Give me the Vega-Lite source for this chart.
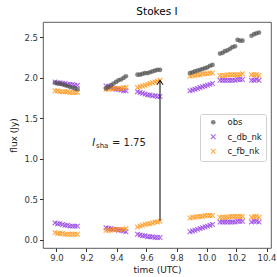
{
"$schema":"https://vega.github.io/schema/vega-lite/v6.json",
"width":228,"height":226,
"autosize":{"type":"none"},
"padding":{"left":43,"top":22,"right":6,"bottom":29},
"title":{"text":"Stokes I","fontSize":10.5,"fontWeight":"normal","font":"DejaVu Sans","color":"#000","offset":5},
"config":{"font":"DejaVu Sans","view":{"stroke":"#333","strokeWidth":0.8},
"axis":{"grid":false,"domain":false,"labelFontSize":8.5,"titleFontSize":9,"titleFontWeight":"normal","labelColor":"#333","titleColor":"#222","tickColor":"#333","tickSize":3.5,"labelPadding":2,"labelOverlap":false,"labelFlush":false}},
"datasets":{"pts":[
{"t":8.99,"s":"c_db_nk","v":1.95},{"t":9.007,"s":"c_db_nk","v":1.94},{"t":9.023,"s":"c_db_nk","v":1.94},{"t":9.04,"s":"c_db_nk","v":1.93},{"t":9.057,"s":"c_db_nk","v":1.93},{"t":9.073,"s":"c_db_nk","v":1.92},{"t":9.09,"s":"c_db_nk","v":1.92},{"t":9.107,"s":"c_db_nk","v":1.92},{"t":9.123,"s":"c_db_nk","v":1.91},{"t":9.14,"s":"c_db_nk","v":1.91},
{"t":9.33,"s":"c_db_nk","v":1.90},{"t":9.347,"s":"c_db_nk","v":1.89},{"t":9.363,"s":"c_db_nk","v":1.88},{"t":9.38,"s":"c_db_nk","v":1.87},{"t":9.397,"s":"c_db_nk","v":1.86},{"t":9.413,"s":"c_db_nk","v":1.86},{"t":9.43,"s":"c_db_nk","v":1.85},{"t":9.447,"s":"c_db_nk","v":1.84},{"t":9.463,"s":"c_db_nk","v":1.84},
{"t":9.54,"s":"c_db_nk","v":1.83},{"t":9.557,"s":"c_db_nk","v":1.82},{"t":9.573,"s":"c_db_nk","v":1.81},{"t":9.59,"s":"c_db_nk","v":1.80},{"t":9.607,"s":"c_db_nk","v":1.79},{"t":9.623,"s":"c_db_nk","v":1.79},{"t":9.64,"s":"c_db_nk","v":1.78},{"t":9.657,"s":"c_db_nk","v":1.78},{"t":9.673,"s":"c_db_nk","v":1.77},{"t":9.69,"s":"c_db_nk","v":1.77},
{"t":9.89,"s":"c_db_nk","v":1.84},{"t":9.907,"s":"c_db_nk","v":1.85},{"t":9.923,"s":"c_db_nk","v":1.86},{"t":9.94,"s":"c_db_nk","v":1.87},{"t":9.957,"s":"c_db_nk","v":1.88},{"t":9.973,"s":"c_db_nk","v":1.89},{"t":9.99,"s":"c_db_nk","v":1.90},{"t":10.007,"s":"c_db_nk","v":1.91},{"t":10.023,"s":"c_db_nk","v":1.92},{"t":10.04,"s":"c_db_nk","v":1.93},
{"t":10.09,"s":"c_db_nk","v":1.97},{"t":10.107,"s":"c_db_nk","v":1.97},{"t":10.123,"s":"c_db_nk","v":1.97},{"t":10.14,"s":"c_db_nk","v":1.97},{"t":10.157,"s":"c_db_nk","v":1.97},{"t":10.173,"s":"c_db_nk","v":1.97},{"t":10.19,"s":"c_db_nk","v":1.97},{"t":10.207,"s":"c_db_nk","v":1.98},{"t":10.223,"s":"c_db_nk","v":1.98},{"t":10.24,"s":"c_db_nk","v":1.98},
{"t":10.3,"s":"c_db_nk","v":1.97},{"t":10.317,"s":"c_db_nk","v":1.97},{"t":10.333,"s":"c_db_nk","v":1.98},{"t":10.35,"s":"c_db_nk","v":1.97},
{"t":8.99,"s":"c_db_nk","v":0.21},{"t":9.007,"s":"c_db_nk","v":0.20},{"t":9.023,"s":"c_db_nk","v":0.20},{"t":9.04,"s":"c_db_nk","v":0.19},{"t":9.057,"s":"c_db_nk","v":0.18},{"t":9.073,"s":"c_db_nk","v":0.18},{"t":9.09,"s":"c_db_nk","v":0.17},{"t":9.107,"s":"c_db_nk","v":0.17},{"t":9.123,"s":"c_db_nk","v":0.17},{"t":9.14,"s":"c_db_nk","v":0.17},
{"t":9.33,"s":"c_db_nk","v":0.15},{"t":9.347,"s":"c_db_nk","v":0.14},{"t":9.363,"s":"c_db_nk","v":0.14},{"t":9.38,"s":"c_db_nk","v":0.13},{"t":9.397,"s":"c_db_nk","v":0.13},{"t":9.413,"s":"c_db_nk","v":0.12},{"t":9.43,"s":"c_db_nk","v":0.12},{"t":9.447,"s":"c_db_nk","v":0.11},{"t":9.463,"s":"c_db_nk","v":0.10},
{"t":9.54,"s":"c_db_nk","v":0.07},{"t":9.557,"s":"c_db_nk","v":0.06},{"t":9.573,"s":"c_db_nk","v":0.05},{"t":9.59,"s":"c_db_nk","v":0.05},{"t":9.607,"s":"c_db_nk","v":0.04},{"t":9.623,"s":"c_db_nk","v":0.04},{"t":9.64,"s":"c_db_nk","v":0.04},{"t":9.657,"s":"c_db_nk","v":0.03},{"t":9.673,"s":"c_db_nk","v":0.03},{"t":9.69,"s":"c_db_nk","v":0.03},
{"t":9.89,"s":"c_db_nk","v":0.10},{"t":9.907,"s":"c_db_nk","v":0.11},{"t":9.923,"s":"c_db_nk","v":0.12},{"t":9.94,"s":"c_db_nk","v":0.13},{"t":9.957,"s":"c_db_nk","v":0.14},{"t":9.973,"s":"c_db_nk","v":0.15},{"t":9.99,"s":"c_db_nk","v":0.16},{"t":10.007,"s":"c_db_nk","v":0.17},{"t":10.023,"s":"c_db_nk","v":0.18},{"t":10.04,"s":"c_db_nk","v":0.19},
{"t":10.09,"s":"c_db_nk","v":0.22},{"t":10.107,"s":"c_db_nk","v":0.22},{"t":10.123,"s":"c_db_nk","v":0.22},{"t":10.14,"s":"c_db_nk","v":0.22},{"t":10.157,"s":"c_db_nk","v":0.22},{"t":10.173,"s":"c_db_nk","v":0.22},{"t":10.19,"s":"c_db_nk","v":0.22},{"t":10.207,"s":"c_db_nk","v":0.23},{"t":10.223,"s":"c_db_nk","v":0.23},{"t":10.24,"s":"c_db_nk","v":0.23},
{"t":10.3,"s":"c_db_nk","v":0.22},{"t":10.317,"s":"c_db_nk","v":0.23},{"t":10.333,"s":"c_db_nk","v":0.23},{"t":10.35,"s":"c_db_nk","v":0.22},
{"t":8.99,"s":"c_fb_nk","v":1.84},{"t":9.007,"s":"c_fb_nk","v":1.84},{"t":9.023,"s":"c_fb_nk","v":1.83},{"t":9.04,"s":"c_fb_nk","v":1.83},{"t":9.057,"s":"c_fb_nk","v":1.83},{"t":9.073,"s":"c_fb_nk","v":1.83},{"t":9.09,"s":"c_fb_nk","v":1.82},{"t":9.107,"s":"c_fb_nk","v":1.82},{"t":9.123,"s":"c_fb_nk","v":1.82},{"t":9.14,"s":"c_fb_nk","v":1.82},
{"t":9.33,"s":"c_fb_nk","v":1.86},{"t":9.347,"s":"c_fb_nk","v":1.86},{"t":9.363,"s":"c_fb_nk","v":1.87},{"t":9.38,"s":"c_fb_nk","v":1.87},{"t":9.397,"s":"c_fb_nk","v":1.87},{"t":9.413,"s":"c_fb_nk","v":1.87},{"t":9.43,"s":"c_fb_nk","v":1.87},{"t":9.447,"s":"c_fb_nk","v":1.88},{"t":9.463,"s":"c_fb_nk","v":1.88},
{"t":9.54,"s":"c_fb_nk","v":1.88},{"t":9.557,"s":"c_fb_nk","v":1.89},{"t":9.573,"s":"c_fb_nk","v":1.90},{"t":9.59,"s":"c_fb_nk","v":1.91},{"t":9.607,"s":"c_fb_nk","v":1.92},{"t":9.623,"s":"c_fb_nk","v":1.93},{"t":9.64,"s":"c_fb_nk","v":1.94},{"t":9.657,"s":"c_fb_nk","v":1.95},{"t":9.673,"s":"c_fb_nk","v":1.96},{"t":9.69,"s":"c_fb_nk","v":1.97},
{"t":9.89,"s":"c_fb_nk","v":2.02},{"t":9.907,"s":"c_fb_nk","v":2.03},{"t":9.923,"s":"c_fb_nk","v":2.03},{"t":9.94,"s":"c_fb_nk","v":2.04},{"t":9.957,"s":"c_fb_nk","v":2.04},{"t":9.973,"s":"c_fb_nk","v":2.05},{"t":9.99,"s":"c_fb_nk","v":2.05},{"t":10.007,"s":"c_fb_nk","v":2.05},{"t":10.023,"s":"c_fb_nk","v":2.06},{"t":10.04,"s":"c_fb_nk","v":2.06},
{"t":10.09,"s":"c_fb_nk","v":2.03},{"t":10.107,"s":"c_fb_nk","v":2.03},{"t":10.123,"s":"c_fb_nk","v":2.03},{"t":10.14,"s":"c_fb_nk","v":2.04},{"t":10.157,"s":"c_fb_nk","v":2.04},{"t":10.173,"s":"c_fb_nk","v":2.04},{"t":10.19,"s":"c_fb_nk","v":2.04},{"t":10.207,"s":"c_fb_nk","v":2.04},{"t":10.223,"s":"c_fb_nk","v":2.04},{"t":10.24,"s":"c_fb_nk","v":2.05},
{"t":10.3,"s":"c_fb_nk","v":2.04},{"t":10.317,"s":"c_fb_nk","v":2.04},{"t":10.333,"s":"c_fb_nk","v":2.04},{"t":10.35,"s":"c_fb_nk","v":2.03},
{"t":8.99,"s":"c_fb_nk","v":0.09},{"t":9.007,"s":"c_fb_nk","v":0.08},{"t":9.023,"s":"c_fb_nk","v":0.08},{"t":9.04,"s":"c_fb_nk","v":0.08},{"t":9.057,"s":"c_fb_nk","v":0.07},{"t":9.073,"s":"c_fb_nk","v":0.07},{"t":9.09,"s":"c_fb_nk","v":0.07},{"t":9.107,"s":"c_fb_nk","v":0.07},{"t":9.123,"s":"c_fb_nk","v":0.07},{"t":9.14,"s":"c_fb_nk","v":0.07},
{"t":9.33,"s":"c_fb_nk","v":0.12},{"t":9.347,"s":"c_fb_nk","v":0.12},{"t":9.363,"s":"c_fb_nk","v":0.12},{"t":9.38,"s":"c_fb_nk","v":0.13},{"t":9.397,"s":"c_fb_nk","v":0.13},{"t":9.413,"s":"c_fb_nk","v":0.13},{"t":9.43,"s":"c_fb_nk","v":0.13},{"t":9.447,"s":"c_fb_nk","v":0.13},{"t":9.463,"s":"c_fb_nk","v":0.14},
{"t":9.54,"s":"c_fb_nk","v":0.16},{"t":9.557,"s":"c_fb_nk","v":0.17},{"t":9.573,"s":"c_fb_nk","v":0.18},{"t":9.59,"s":"c_fb_nk","v":0.19},{"t":9.607,"s":"c_fb_nk","v":0.20},{"t":9.623,"s":"c_fb_nk","v":0.20},{"t":9.64,"s":"c_fb_nk","v":0.21},{"t":9.657,"s":"c_fb_nk","v":0.22},{"t":9.673,"s":"c_fb_nk","v":0.22},{"t":9.69,"s":"c_fb_nk","v":0.23},
{"t":9.89,"s":"c_fb_nk","v":0.27},{"t":9.907,"s":"c_fb_nk","v":0.28},{"t":9.923,"s":"c_fb_nk","v":0.28},{"t":9.94,"s":"c_fb_nk","v":0.29},{"t":9.957,"s":"c_fb_nk","v":0.29},{"t":9.973,"s":"c_fb_nk","v":0.29},{"t":9.99,"s":"c_fb_nk","v":0.30},{"t":10.007,"s":"c_fb_nk","v":0.30},{"t":10.023,"s":"c_fb_nk","v":0.30},{"t":10.04,"s":"c_fb_nk","v":0.30},
{"t":10.09,"s":"c_fb_nk","v":0.28},{"t":10.107,"s":"c_fb_nk","v":0.28},{"t":10.123,"s":"c_fb_nk","v":0.28},{"t":10.14,"s":"c_fb_nk","v":0.28},{"t":10.157,"s":"c_fb_nk","v":0.29},{"t":10.173,"s":"c_fb_nk","v":0.29},{"t":10.19,"s":"c_fb_nk","v":0.29},{"t":10.207,"s":"c_fb_nk","v":0.29},{"t":10.223,"s":"c_fb_nk","v":0.29},{"t":10.24,"s":"c_fb_nk","v":0.29},
{"t":10.3,"s":"c_fb_nk","v":0.28},{"t":10.317,"s":"c_fb_nk","v":0.29},{"t":10.333,"s":"c_fb_nk","v":0.29},{"t":10.35,"s":"c_fb_nk","v":0.28},
{"t":8.99,"s":"obs","v":1.94},{"t":9.007,"s":"obs","v":1.93},{"t":9.023,"s":"obs","v":1.93},{"t":9.04,"s":"obs","v":1.92},{"t":9.057,"s":"obs","v":1.91},{"t":9.073,"s":"obs","v":1.90},{"t":9.09,"s":"obs","v":1.89},{"t":9.107,"s":"obs","v":1.88},{"t":9.123,"s":"obs","v":1.87},{"t":9.14,"s":"obs","v":1.86},
{"t":9.33,"s":"obs","v":1.87},{"t":9.347,"s":"obs","v":1.89},{"t":9.363,"s":"obs","v":1.91},{"t":9.38,"s":"obs","v":1.93},{"t":9.397,"s":"obs","v":1.95},{"t":9.413,"s":"obs","v":1.97},{"t":9.43,"s":"obs","v":1.98},{"t":9.447,"s":"obs","v":2.00},{"t":9.463,"s":"obs","v":2.02},
{"t":9.54,"s":"obs","v":2.04},{"t":9.557,"s":"obs","v":2.04},{"t":9.573,"s":"obs","v":2.05},{"t":9.59,"s":"obs","v":2.06},{"t":9.607,"s":"obs","v":2.06},{"t":9.623,"s":"obs","v":2.07},{"t":9.64,"s":"obs","v":2.08},{"t":9.657,"s":"obs","v":2.09},{"t":9.673,"s":"obs","v":2.10},{"t":9.69,"s":"obs","v":2.10},
{"t":9.89,"s":"obs","v":2.06},{"t":9.907,"s":"obs","v":2.07},{"t":9.923,"s":"obs","v":2.08},{"t":9.94,"s":"obs","v":2.09},{"t":9.957,"s":"obs","v":2.10},{"t":9.973,"s":"obs","v":2.11},{"t":9.99,"s":"obs","v":2.12},{"t":10.007,"s":"obs","v":2.13},{"t":10.023,"s":"obs","v":2.15},{"t":10.04,"s":"obs","v":2.16},
{"t":10.09,"s":"obs","v":2.30},{"t":10.107,"s":"obs","v":2.31},{"t":10.123,"s":"obs","v":2.33},{"t":10.14,"s":"obs","v":2.34},{"t":10.157,"s":"obs","v":2.36},{"t":10.173,"s":"obs","v":2.38},{"t":10.19,"s":"obs","v":2.39},{"t":10.207,"s":"obs","v":2.47},{"t":10.223,"s":"obs","v":2.46},{"t":10.24,"s":"obs","v":2.46},
{"t":10.3,"s":"obs","v":2.52},{"t":10.317,"s":"obs","v":2.54},{"t":10.333,"s":"obs","v":2.55},{"t":10.35,"s":"obs","v":2.56}
]},
"layer":[
{"data":{"name":"pts"},
 "mark":{"type":"point","filled":true,"opacity":0.7,"size":22},
 "encoding":{
  "x":{"field":"t","type":"quantitative","scale":{"domain":[8.91,10.43],"nice":false,"zero":false},"axis":{"values":[9.0,9.2,9.4,9.6,9.8,10.0,10.2,10.4],"tickCount":12,"format":".1f","title":"time (UTC)","titlePadding":3}},
  "y":{"field":"v","type":"quantitative","scale":{"domain":[-0.1,2.69],"nice":false,"zero":false},"axis":{"values":[0,0.5,1,1.5,2,2.5],"tickCount":10,"format":".1f","title":"flux (Jy)","titlePadding":5}},
  "color":{"field":"s","type":"nominal","scale":{"domain":["obs","c_db_nk","c_fb_nk"],"range":["#505050","#8a2be2","#ff8c00"]},
   "legend":{"title":null,"orient":"none","legendX":157,"legendY":92,"fillColor":"#ffffff","strokeColor":"#d0d0d0","cornerRadius":2,"padding":4,"labelFontSize":8.5,"labelColor":"#222","symbolSize":22,"symbolOffset":5,"labelOffset":10,"rowPadding":2.5,"symbolOpacity":0.7}},
  "shape":{"field":"s","type":"nominal","scale":{"domain":["obs","c_db_nk","c_fb_nk"],"range":["circle","M-0.83,-1.17L1.17,0.83L0.83,1.17L-1.17,-0.83ZM-1.17,0.83L0.83,-1.17L1.17,-0.83L-0.83,1.17Z","M-0.83,-1.17L1.17,0.83L0.83,1.17L-1.17,-0.83ZM-1.17,0.83L0.83,-1.17L1.17,-0.83L-0.83,1.17Z"]},
   "legend":{"title":null,"orient":"none","legendX":157,"legendY":92,"fillColor":"#ffffff","strokeColor":"#d0d0d0","cornerRadius":2,"padding":4,"labelFontSize":8.5,"labelColor":"#222","symbolSize":22,"symbolOffset":5,"labelOffset":10,"rowPadding":2.5,"symbolOpacity":0.7}}
 }},
{"data":{"values":[{"t":9.69,"a":0.24,"b":1.97}]},
 "mark":{"type":"rule","color":"#000","strokeWidth":1},
 "encoding":{"x":{"field":"t","type":"quantitative","title":"time (UTC)"},"y":{"field":"a","type":"quantitative","title":"flux (Jy)"},"y2":{"field":"b"}}},
{"data":{"values":[{"t":9.69,"b":1.97}]},
 "mark":{"type":"point","shape":"M-1,1.5L0,0L1,1.5","filled":false,"stroke":"#000","strokeWidth":1,"size":36,"opacity":1},
 "encoding":{"x":{"field":"t","type":"quantitative","title":"time (UTC)"},"y":{"field":"b","type":"quantitative","title":"flux (Jy)"}}},
{"data":{"values":[{"t":9.37,"v":1.2}]},
 "layer":[
  {"mark":{"type":"text","text":"I","fontStyle":"italic","fontSize":10,"align":"left","baseline":"middle","dx":-19.7,"color":"#222"}},
  {"mark":{"type":"text","text":"sha","fontSize":7,"align":"left","baseline":"middle","dx":-16,"dy":3,"color":"#222"}},
  {"mark":{"type":"text","text":"= 1.75","fontSize":10,"align":"left","baseline":"middle","color":"#222"}}
 ],
 "encoding":{"x":{"field":"t","type":"quantitative","title":"time (UTC)"},"y":{"field":"v","type":"quantitative","title":"flux (Jy)"}}}
]
}
